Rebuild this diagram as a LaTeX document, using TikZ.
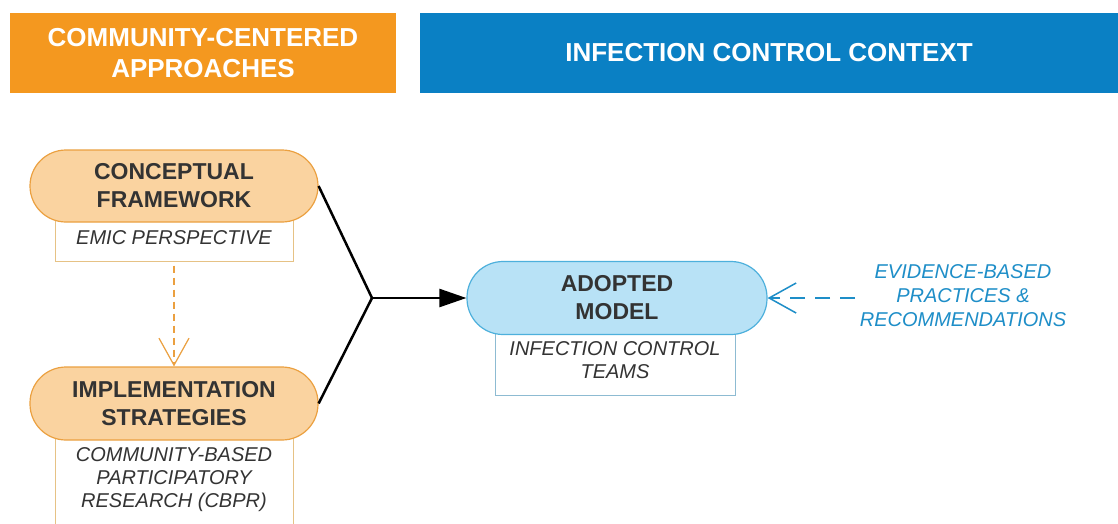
\documentclass[tikz,border=0pt]{standalone}
\usepackage{fontspec}
\setmainfont{Liberation Sans}
\usetikzlibrary{arrows.meta}
\definecolor{hdrorange}{HTML}{F4981F}
\definecolor{hdrblue}{HTML}{0A80C4}
\definecolor{ofill}{HTML}{FAD3A0}
\definecolor{oline}{HTML}{EBA040}
\definecolor{obox}{HTML}{E6C285}
\definecolor{bfill}{HTML}{B8E2F6}
\definecolor{bline}{HTML}{4DB0DC}
\definecolor{bbox}{HTML}{8DBBD2}
\definecolor{darktxt}{HTML}{333333}
\definecolor{bluetxt}{HTML}{1E8EC8}
\tikzset{
  hdr/.style={inner sep=0pt, text=white, align=center, font=\fontsize{26}{31}\selectfont\bfseries},
  stadium/.style={rectangle, rounded corners=36pt, minimum width=288pt, minimum height=72pt, inner sep=0pt, line width=1.2pt, align=center, text=darktxt, font=\fontsize{23}{28}\selectfont\bfseries},
  subbox/.style={rectangle, fill=white, line width=1pt, inner sep=0pt, align=center, text=darktxt, font=\fontsize{20}{23}\selectfont\itshape},
  blk/.style={line width=2.5pt, black},
}
\begin{document}
\begin{tikzpicture}[x=1pt,y=-1pt]
\path[use as bounding box, fill=white] (0,0) rectangle (1118,523);
% headers
\node[hdr, fill=hdrorange, minimum width=386pt, minimum height=80pt] (h1) at (203,53) {COMMUNITY-CENTERED\\APPROACHES};
\node[hdr, fill=hdrblue, minimum width=698pt, minimum height=80pt] (h2) at (769,53) {INFECTION CONTROL CONTEXT};
% sub boxes
\node[subbox, draw=obox, minimum width=238pt, minimum height=46pt] (cfbox) at (174,238) {EMIC PERSPECTIVE};
\node[subbox, draw=obox, minimum width=238pt, minimum height=100pt] (ipbox) at (174,480) {COMMUNITY-BASED\\PARTICIPATORY\\RESEARCH (CBPR)};
\node[subbox, draw=bbox, minimum width=240pt, minimum height=70pt] (ambox) at (615,360) {INFECTION CONTROL\\TEAMS};
% stadiums
\node[stadium, fill=ofill, draw=oline] (cf) at (174,186) {CONCEPTUAL\\FRAMEWORK};
\node[stadium, fill=ofill, draw=oline, minimum height=73pt] (ip) at (174,403.5) {IMPLEMENTATION\\STRATEGIES};
\node[stadium, fill=bfill, draw=bline, minimum width=300pt, minimum height=73pt] (am) at (617,298) {ADOPTED\\MODEL};
% connectors
\coordinate (j) at (372,298);
\draw[blk] (cf.east) -- (j);
\draw[blk] (ip.east) -- (j);
\draw[blk, -{Triangle[length=27pt,width=18pt]}] (j) -- (am.west);
\draw[oline, line width=1.2pt, dash pattern=on 7pt off 5pt, shorten <=4pt, -{Straight Barb[length=27pt,width=30pt]}] (cfbox.south) -- (ip.north);
\coordinate (ev) at (855,298);
\draw[bluetxt, line width=1.5pt, dash pattern=on 15pt off 10pt, -{Straight Barb[length=27pt,width=30pt]}] (ev) -- (am.east);
\node[text=bluetxt, align=center, font=\fontsize{20}{24}\selectfont\itshape] (evt) at (963,296) {EVIDENCE-BASED\\PRACTICES \&\\RECOMMENDATIONS};
\end{tikzpicture}
\end{document}
